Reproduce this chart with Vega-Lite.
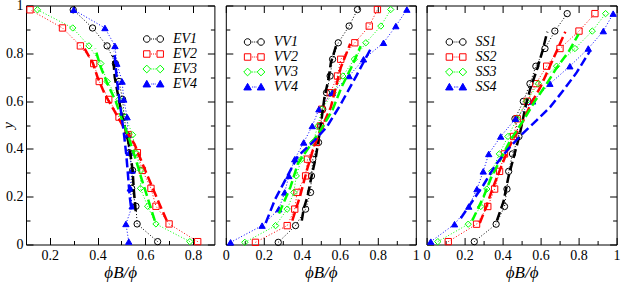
{
  "$schema": "https://vega.github.io/schema/vega-lite/v6.json",
  "padding": {"left": 0, "top": -2.5, "right": 0, "bottom": 0},
  "spacing": 10.8,
  "bounds": "flush",
  "datasets": {
    "obs": [
      {"panel":"EV","series":"EV1","x":0.298,"y":0.982},{"panel":"EV","series":"EV1","x":0.379,"y":0.906},{"panel":"EV","series":"EV1","x":0.44,"y":0.831},{"panel":"EV","series":"EV1","x":0.475,"y":0.757},{"panel":"EV","series":"EV1","x":0.49,"y":0.682},{"panel":"EV","series":"EV1","x":0.505,"y":0.607},{"panel":"EV","series":"EV1","x":0.512,"y":0.533},{"panel":"EV","series":"EV1","x":0.522,"y":0.459},{"panel":"EV","series":"EV1","x":0.533,"y":0.384},{"panel":"EV","series":"EV1","x":0.547,"y":0.31},{"panel":"EV","series":"EV1","x":0.543,"y":0.235},{"panel":"EV","series":"EV1","x":0.561,"y":0.16},{"panel":"EV","series":"EV1","x":0.566,"y":0.086},{"panel":"EV","series":"EV1","x":0.652,"y":0.012},
      {"panel":"EV","series":"EV2","x":0.117,"y":0.982},{"panel":"EV","series":"EV2","x":0.253,"y":0.906},{"panel":"EV","series":"EV2","x":0.328,"y":0.831},{"panel":"EV","series":"EV2","x":0.384,"y":0.757},{"panel":"EV","series":"EV2","x":0.407,"y":0.682},{"panel":"EV","series":"EV2","x":0.447,"y":0.607},{"panel":"EV","series":"EV2","x":0.49,"y":0.533},{"panel":"EV","series":"EV2","x":0.528,"y":0.459},{"panel":"EV","series":"EV2","x":0.567,"y":0.384},{"panel":"EV","series":"EV2","x":0.588,"y":0.31},{"panel":"EV","series":"EV2","x":0.624,"y":0.235},{"panel":"EV","series":"EV2","x":0.645,"y":0.16},{"panel":"EV","series":"EV2","x":0.7,"y":0.086},{"panel":"EV","series":"EV2","x":0.82,"y":0.012},
      {"panel":"EV","series":"EV3","x":0.148,"y":0.982},{"panel":"EV","series":"EV3","x":0.296,"y":0.906},{"panel":"EV","series":"EV3","x":0.364,"y":0.831},{"panel":"EV","series":"EV3","x":0.414,"y":0.757},{"panel":"EV","series":"EV3","x":0.44,"y":0.682},{"panel":"EV","series":"EV3","x":0.49,"y":0.607},{"panel":"EV","series":"EV3","x":0.517,"y":0.533},{"panel":"EV","series":"EV3","x":0.547,"y":0.459},{"panel":"EV","series":"EV3","x":0.561,"y":0.384},{"panel":"EV","series":"EV3","x":0.582,"y":0.31},{"panel":"EV","series":"EV3","x":0.58,"y":0.235},{"panel":"EV","series":"EV3","x":0.61,"y":0.16},{"panel":"EV","series":"EV3","x":0.645,"y":0.086},{"panel":"EV","series":"EV3","x":0.787,"y":0.012},
      {"panel":"EV","series":"EV4","x":0.3,"y":0.982},{"panel":"EV","series":"EV4","x":0.431,"y":0.906},{"panel":"EV","series":"EV4","x":0.473,"y":0.831},{"panel":"EV","series":"EV4","x":0.481,"y":0.757},{"panel":"EV","series":"EV4","x":0.503,"y":0.682},{"panel":"EV","series":"EV4","x":0.51,"y":0.607},{"panel":"EV","series":"EV4","x":0.524,"y":0.533},{"panel":"EV","series":"EV4","x":0.527,"y":0.459},{"panel":"EV","series":"EV4","x":0.533,"y":0.384},{"panel":"EV","series":"EV4","x":0.545,"y":0.31},{"panel":"EV","series":"EV4","x":0.537,"y":0.235},{"panel":"EV","series":"EV4","x":0.545,"y":0.16},{"panel":"EV","series":"EV4","x":0.519,"y":0.086},{"panel":"EV","series":"EV4","x":0.531,"y":0.012},
      {"panel":"VV","series":"VV1","x":0.693,"y":0.983},{"panel":"VV","series":"VV1","x":0.649,"y":0.914},{"panel":"VV","series":"VV1","x":0.592,"y":0.844},{"panel":"VV","series":"VV1","x":0.562,"y":0.775},{"panel":"VV","series":"VV1","x":0.549,"y":0.705},{"panel":"VV","series":"VV1","x":0.53,"y":0.635},{"panel":"VV","series":"VV1","x":0.51,"y":0.566},{"panel":"VV","series":"VV1","x":0.5,"y":0.496},{"panel":"VV","series":"VV1","x":0.488,"y":0.427},{"panel":"VV","series":"VV1","x":0.458,"y":0.357},{"panel":"VV","series":"VV1","x":0.451,"y":0.287},{"panel":"VV","series":"VV1","x":0.446,"y":0.218},{"panel":"VV","series":"VV1","x":0.42,"y":0.148},{"panel":"VV","series":"VV1","x":0.367,"y":0.079},{"panel":"VV","series":"VV1","x":0.276,"y":0.009},
      {"panel":"VV","series":"VV2","x":0.798,"y":0.983},{"panel":"VV","series":"VV2","x":0.755,"y":0.914},{"panel":"VV","series":"VV2","x":0.679,"y":0.844},{"panel":"VV","series":"VV2","x":0.605,"y":0.775},{"panel":"VV","series":"VV2","x":0.588,"y":0.705},{"panel":"VV","series":"VV2","x":0.55,"y":0.635},{"panel":"VV","series":"VV2","x":0.505,"y":0.566},{"panel":"VV","series":"VV2","x":0.498,"y":0.496},{"panel":"VV","series":"VV2","x":0.476,"y":0.427},{"panel":"VV","series":"VV2","x":0.43,"y":0.357},{"panel":"VV","series":"VV2","x":0.42,"y":0.287},{"panel":"VV","series":"VV2","x":0.375,"y":0.218},{"panel":"VV","series":"VV2","x":0.363,"y":0.148},{"panel":"VV","series":"VV2","x":0.323,"y":0.079},{"panel":"VV","series":"VV2","x":0.156,"y":0.009},
      {"panel":"VV","series":"VV3","x":0.868,"y":0.983},{"panel":"VV","series":"VV3","x":0.816,"y":0.914},{"panel":"VV","series":"VV3","x":0.737,"y":0.844},{"panel":"VV","series":"VV3","x":0.676,"y":0.775},{"panel":"VV","series":"VV3","x":0.616,"y":0.705},{"panel":"VV","series":"VV3","x":0.565,"y":0.635},{"panel":"VV","series":"VV3","x":0.505,"y":0.566},{"panel":"VV","series":"VV3","x":0.485,"y":0.496},{"panel":"VV","series":"VV3","x":0.458,"y":0.427},{"panel":"VV","series":"VV3","x":0.398,"y":0.357},{"panel":"VV","series":"VV3","x":0.371,"y":0.287},{"panel":"VV","series":"VV3","x":0.358,"y":0.218},{"panel":"VV","series":"VV3","x":0.323,"y":0.148},{"panel":"VV","series":"VV3","x":0.262,"y":0.079},{"panel":"VV","series":"VV3","x":0.1,"y":0.009},
      {"panel":"VV","series":"VV4","x":0.953,"y":0.983},{"panel":"VV","series":"VV4","x":0.895,"y":0.914},{"panel":"VV","series":"VV4","x":0.83,"y":0.844},{"panel":"VV","series":"VV4","x":0.725,"y":0.775},{"panel":"VV","series":"VV4","x":0.649,"y":0.705},{"panel":"VV","series":"VV4","x":0.561,"y":0.635},{"panel":"VV","series":"VV4","x":0.49,"y":0.566},{"panel":"VV","series":"VV4","x":0.455,"y":0.496},{"panel":"VV","series":"VV4","x":0.41,"y":0.427},{"panel":"VV","series":"VV4","x":0.363,"y":0.357},{"panel":"VV","series":"VV4","x":0.332,"y":0.287},{"panel":"VV","series":"VV4","x":0.31,"y":0.218},{"panel":"VV","series":"VV4","x":0.279,"y":0.148},{"panel":"VV","series":"VV4","x":0.191,"y":0.079},{"panel":"VV","series":"VV4","x":0.025,"y":0.009},
      {"panel":"SS","series":"SS1","x":0.74,"y":0.966},{"panel":"SS","series":"SS1","x":0.675,"y":0.893},{"panel":"SS","series":"SS1","x":0.623,"y":0.82},{"panel":"SS","series":"SS1","x":0.575,"y":0.746},{"panel":"SS","series":"SS1","x":0.544,"y":0.673},{"panel":"SS","series":"SS1","x":0.509,"y":0.599},{"panel":"SS","series":"SS1","x":0.465,"y":0.526},{"panel":"SS","series":"SS1","x":0.486,"y":0.452},{"panel":"SS","series":"SS1","x":0.452,"y":0.379},{"panel":"SS","series":"SS1","x":0.432,"y":0.306},{"panel":"SS","series":"SS1","x":0.423,"y":0.232},{"panel":"SS","series":"SS1","x":0.41,"y":0.159},{"panel":"SS","series":"SS1","x":0.366,"y":0.085},{"panel":"SS","series":"SS1","x":0.251,"y":0.012},
      {"panel":"SS","series":"SS2","x":0.886,"y":0.966},{"panel":"SS","series":"SS2","x":0.802,"y":0.893},{"panel":"SS","series":"SS2","x":0.702,"y":0.82},{"panel":"SS","series":"SS2","x":0.632,"y":0.746},{"panel":"SS","series":"SS2","x":0.575,"y":0.673},{"panel":"SS","series":"SS2","x":0.53,"y":0.599},{"panel":"SS","series":"SS2","x":0.477,"y":0.526},{"panel":"SS","series":"SS2","x":0.458,"y":0.452},{"panel":"SS","series":"SS2","x":0.41,"y":0.379},{"panel":"SS","series":"SS2","x":0.384,"y":0.306},{"panel":"SS","series":"SS2","x":0.358,"y":0.232},{"panel":"SS","series":"SS2","x":0.322,"y":0.159},{"panel":"SS","series":"SS2","x":0.263,"y":0.085},{"panel":"SS","series":"SS2","x":0.114,"y":0.012},
      {"panel":"SS","series":"SS3","x":0.942,"y":0.966},{"panel":"SS","series":"SS3","x":0.872,"y":0.893},{"panel":"SS","series":"SS3","x":0.781,"y":0.82},{"panel":"SS","series":"SS3","x":0.684,"y":0.746},{"panel":"SS","series":"SS3","x":0.588,"y":0.673},{"panel":"SS","series":"SS3","x":0.526,"y":0.599},{"panel":"SS","series":"SS3","x":0.477,"y":0.526},{"panel":"SS","series":"SS3","x":0.428,"y":0.452},{"panel":"SS","series":"SS3","x":0.383,"y":0.379},{"panel":"SS","series":"SS3","x":0.343,"y":0.306},{"panel":"SS","series":"SS3","x":0.317,"y":0.232},{"panel":"SS","series":"SS3","x":0.285,"y":0.159},{"panel":"SS","series":"SS3","x":0.219,"y":0.085},{"panel":"SS","series":"SS3","x":0.059,"y":0.012},
      {"panel":"SS","series":"SS4","x":0.982,"y":0.966},{"panel":"SS","series":"SS4","x":0.93,"y":0.893},{"panel":"SS","series":"SS4","x":0.851,"y":0.82},{"panel":"SS","series":"SS4","x":0.754,"y":0.746},{"panel":"SS","series":"SS4","x":0.649,"y":0.673},{"panel":"SS","series":"SS4","x":0.558,"y":0.599},{"panel":"SS","series":"SS4","x":0.468,"y":0.526},{"panel":"SS","series":"SS4","x":0.39,"y":0.452},{"panel":"SS","series":"SS4","x":0.327,"y":0.379},{"panel":"SS","series":"SS4","x":0.298,"y":0.306},{"panel":"SS","series":"SS4","x":0.265,"y":0.232},{"panel":"SS","series":"SS4","x":0.222,"y":0.159},{"panel":"SS","series":"SS4","x":0.147,"y":0.085},{"panel":"SS","series":"SS4","x":0.022,"y":0.012}
    ],
    "model": [
      {"panel":"EV","series":"EV1","x":0.465,"y":0.79},{"panel":"EV","series":"EV1","x":0.472,"y":0.7},{"panel":"EV","series":"EV1","x":0.485,"y":0.63},{"panel":"EV","series":"EV1","x":0.5,"y":0.55},{"panel":"EV","series":"EV1","x":0.52,"y":0.47},{"panel":"EV","series":"EV1","x":0.535,"y":0.4},{"panel":"EV","series":"EV1","x":0.547,"y":0.31},{"panel":"EV","series":"EV1","x":0.552,"y":0.23},{"panel":"EV","series":"EV1","x":0.56,"y":0.14},
      {"panel":"EV","series":"EV2","x":0.338,"y":0.833},{"panel":"EV","series":"EV2","x":0.38,"y":0.76},{"panel":"EV","series":"EV2","x":0.4,"y":0.7},{"panel":"EV","series":"EV2","x":0.43,"y":0.63},{"panel":"EV","series":"EV2","x":0.47,"y":0.56},{"panel":"EV","series":"EV2","x":0.51,"y":0.49},{"panel":"EV","series":"EV2","x":0.555,"y":0.42},{"panel":"EV","series":"EV2","x":0.6,"y":0.31},{"panel":"EV","series":"EV2","x":0.655,"y":0.18},{"panel":"EV","series":"EV2","x":0.69,"y":0.1},
      {"panel":"EV","series":"EV3","x":0.39,"y":0.82},{"panel":"EV","series":"EV3","x":0.414,"y":0.74},{"panel":"EV","series":"EV3","x":0.443,"y":0.67},{"panel":"EV","series":"EV3","x":0.476,"y":0.6},{"panel":"EV","series":"EV3","x":0.5,"y":0.53},{"panel":"EV","series":"EV3","x":0.53,"y":0.45},{"panel":"EV","series":"EV3","x":0.562,"y":0.35},{"panel":"EV","series":"EV3","x":0.583,"y":0.28},{"panel":"EV","series":"EV3","x":0.618,"y":0.17},{"panel":"EV","series":"EV3","x":0.64,"y":0.1},
      {"panel":"EV","series":"EV4","x":0.47,"y":0.81},{"panel":"EV","series":"EV4","x":0.48,"y":0.7},{"panel":"EV","series":"EV4","x":0.495,"y":0.58},{"panel":"EV","series":"EV4","x":0.51,"y":0.47},{"panel":"EV","series":"EV4","x":0.52,"y":0.38},{"panel":"EV","series":"EV4","x":0.527,"y":0.3},{"panel":"EV","series":"EV4","x":0.535,"y":0.2},{"panel":"EV","series":"EV4","x":0.54,"y":0.16},
      {"panel":"VV","series":"VV1","x":0.58,"y":0.83},{"panel":"VV","series":"VV1","x":0.553,"y":0.76},{"panel":"VV","series":"VV1","x":0.54,"y":0.69},{"panel":"VV","series":"VV1","x":0.52,"y":0.62},{"panel":"VV","series":"VV1","x":0.5,"y":0.5},{"panel":"VV","series":"VV1","x":0.475,"y":0.37},{"panel":"VV","series":"VV1","x":0.45,"y":0.28},{"panel":"VV","series":"VV1","x":0.43,"y":0.2},{"panel":"VV","series":"VV1","x":0.41,"y":0.15},{"panel":"VV","series":"VV1","x":0.4,"y":0.1},
      {"panel":"VV","series":"VV2","x":0.655,"y":0.84},{"panel":"VV","series":"VV2","x":0.605,"y":0.74},{"panel":"VV","series":"VV2","x":0.58,"y":0.66},{"panel":"VV","series":"VV2","x":0.553,"y":0.575},{"panel":"VV","series":"VV2","x":0.5,"y":0.48},{"panel":"VV","series":"VV2","x":0.46,"y":0.4},{"panel":"VV","series":"VV2","x":0.43,"y":0.32},{"panel":"VV","series":"VV2","x":0.39,"y":0.2},{"panel":"VV","series":"VV2","x":0.35,"y":0.1},
      {"panel":"VV","series":"VV3","x":0.71,"y":0.83},{"panel":"VV","series":"VV3","x":0.66,"y":0.74},{"panel":"VV","series":"VV3","x":0.61,"y":0.66},{"panel":"VV","series":"VV3","x":0.56,"y":0.56},{"panel":"VV","series":"VV3","x":0.5,"y":0.48},{"panel":"VV","series":"VV3","x":0.44,"y":0.41},{"panel":"VV","series":"VV3","x":0.38,"y":0.34},{"panel":"VV","series":"VV3","x":0.34,"y":0.24},{"panel":"VV","series":"VV3","x":0.28,"y":0.13},
      {"panel":"VV","series":"VV4","x":0.77,"y":0.83},{"panel":"VV","series":"VV4","x":0.69,"y":0.71},{"panel":"VV","series":"VV4","x":0.6,"y":0.58},{"panel":"VV","series":"VV4","x":0.53,"y":0.49},{"panel":"VV","series":"VV4","x":0.46,"y":0.43},{"panel":"VV","series":"VV4","x":0.38,"y":0.37},{"panel":"VV","series":"VV4","x":0.32,"y":0.28},{"panel":"VV","series":"VV4","x":0.26,"y":0.19},{"panel":"VV","series":"VV4","x":0.21,"y":0.09},
      {"panel":"SS","series":"SS1","x":0.635,"y":0.89},{"panel":"SS","series":"SS1","x":0.61,"y":0.81},{"panel":"SS","series":"SS1","x":0.58,"y":0.73},{"panel":"SS","series":"SS1","x":0.545,"y":0.65},{"panel":"SS","series":"SS1","x":0.52,"y":0.575},{"panel":"SS","series":"SS1","x":0.49,"y":0.46},{"panel":"SS","series":"SS1","x":0.46,"y":0.37},{"panel":"SS","series":"SS1","x":0.43,"y":0.28},{"panel":"SS","series":"SS1","x":0.405,"y":0.18},{"panel":"SS","series":"SS1","x":0.37,"y":0.1},
      {"panel":"SS","series":"SS2","x":0.73,"y":0.89},{"panel":"SS","series":"SS2","x":0.685,"y":0.81},{"panel":"SS","series":"SS2","x":0.64,"y":0.73},{"panel":"SS","series":"SS2","x":0.6,"y":0.66},{"panel":"SS","series":"SS2","x":0.55,"y":0.59},{"panel":"SS","series":"SS2","x":0.51,"y":0.52},{"panel":"SS","series":"SS2","x":0.46,"y":0.45},{"panel":"SS","series":"SS2","x":0.42,"y":0.38},{"panel":"SS","series":"SS2","x":0.385,"y":0.31},{"panel":"SS","series":"SS2","x":0.35,"y":0.24},{"panel":"SS","series":"SS2","x":0.315,"y":0.16},{"panel":"SS","series":"SS2","x":0.28,"y":0.09},
      {"panel":"SS","series":"SS3","x":0.8,"y":0.88},{"panel":"SS","series":"SS3","x":0.75,"y":0.81},{"panel":"SS","series":"SS3","x":0.685,"y":0.74},{"panel":"SS","series":"SS3","x":0.63,"y":0.67},{"panel":"SS","series":"SS3","x":0.57,"y":0.6},{"panel":"SS","series":"SS3","x":0.51,"y":0.52},{"panel":"SS","series":"SS3","x":0.44,"y":0.435},{"panel":"SS","series":"SS3","x":0.385,"y":0.35},{"panel":"SS","series":"SS3","x":0.34,"y":0.28},{"panel":"SS","series":"SS3","x":0.3,"y":0.2},{"panel":"SS","series":"SS3","x":0.24,"y":0.1},
      {"panel":"SS","series":"SS4","x":0.86,"y":0.81},{"panel":"SS","series":"SS4","x":0.79,"y":0.72},{"panel":"SS","series":"SS4","x":0.72,"y":0.645},{"panel":"SS","series":"SS4","x":0.65,"y":0.575},{"panel":"SS","series":"SS4","x":0.58,"y":0.52},{"panel":"SS","series":"SS4","x":0.5,"y":0.46},{"panel":"SS","series":"SS4","x":0.43,"y":0.4},{"panel":"SS","series":"SS4","x":0.36,"y":0.33},{"panel":"SS","series":"SS4","x":0.3,"y":0.25},{"panel":"SS","series":"SS4","x":0.24,"y":0.18},{"panel":"SS","series":"SS4","x":0.18,"y":0.11}
    ]
  },
  "hconcat": [
    {
      "width": 188.4, "height": 239,
      "layer": [
        {
          "data": {"name": "obs"},
          "transform": [{"filter": "datum.panel == 'EV'"}],
          "mark": {"type": "line", "strokeWidth": 1, "strokeDash": [1, 2]},
          "encoding": {
            "x": {"field": "x", "type": "quantitative", "scale": {"domain": [0.1, 0.89], "nice": false, "zero": false},
              "axis": {"orient": "bottom", "values": [0.2,0.4,0.6,0.8], "format": "~g", "ticks": false, "tickSize": 0, "labelPadding": 4, "title": "ϕB/ϕ"}},
            "y": {"field": "y", "type": "quantitative", "scale": {"domain": [0, 1], "nice": false},
              "axis": {"orient": "left", "values": [0,0.2,0.4,0.6,0.8,1], "format": "~g", "ticks": false, "tickSize": 0, "labelPadding": 3, "title": "y", "titleFontSize": 15, "titlePadding": -10.2}},
            "detail": {"field": "series"},
            "stroke": {"field": "series", "type": "nominal", "scale": {"domain": ["EV1","EV2","EV3","EV4"], "range": ["#000000","#ff0000","#00ff00","#0000ff"]}, "legend": null},
            "order": {"field": "y", "type": "quantitative"}
          }
        },
        {
          "data": {"name": "obs"},
          "transform": [{"filter": "datum.panel == 'EV'"}],
          "mark": {"type": "point", "size": 40, "strokeWidth": 1, "opacity": 1},
          "encoding": {
            "x": {"field": "x", "type": "quantitative", "scale": {"domain": [0.1, 0.89], "nice": false, "zero": false},
              "axis": {"orient": "bottom", "values": [0.2,0.4,0.6,0.8], "labels": false, "tickSize": -7, "title": null}},
            "y": {"field": "y", "type": "quantitative", "scale": {"domain": [0, 1], "nice": false},
              "axis": {"orient": "left", "values": [0,0.2,0.4,0.6,0.8,1], "labels": false, "tickSize": -7, "title": null}},
            "shape": {"field": "series", "type": "nominal", "scale": {"domain": ["EV1","EV2","EV3","EV4"], "range": ["circle","square","diamond","triangle-up"]}, "legend": null},
            "stroke": {"field": "series", "type": "nominal", "scale": {"domain": ["EV1","EV2","EV3","EV4"], "range": ["#000000","#ff0000","#00ff00","#0000ff"]}, "legend": null},
            "fill": {"field": "series", "type": "nominal", "scale": {"domain": ["EV1","EV2","EV3","EV4"], "range": ["transparent","transparent","transparent","#0000ff"]}, "legend": null}
          }
        },
        {
          "data": {"name": "model"},
          "transform": [{"filter": "datum.panel == 'EV'"}],
          "mark": {"type": "line", "strokeWidth": 2.5, "strokeDash": [9, 4]},
          "encoding": {
            "x": {"field": "x", "type": "quantitative", "scale": {"domain": [0.1, 0.89], "nice": false, "zero": false},
              "axis": {"orient": "top", "values": [0.2,0.4,0.6,0.8], "labels": false, "tickSize": -7, "title": null}},
            "y": {"field": "y", "type": "quantitative", "scale": {"domain": [0, 1], "nice": false},
              "axis": {"orient": "right", "values": [0,0.2,0.4,0.6,0.8,1], "labels": false, "tickSize": -7, "title": null}},
            "detail": {"field": "series"},
            "stroke": {"field": "series", "type": "nominal", "scale": {"domain": ["EV1","EV2","EV3","EV4"], "range": ["#000000","#ff0000","#00ff00","#0000ff"]}, "legend": null},
            "order": {"field": "y", "type": "quantitative"}
          }
        },
        {
          "data": {"name": "obs"},
          "transform": [{"filter": "datum.panel == 'EV'"}],
          "mark": {"type": "point", "size": 40, "strokeWidth": 1, "opacity": 0},
          "encoding": {
            "x": {"field": "x", "type": "quantitative", "scale": {"domain": [0.1, 0.89], "nice": false, "zero": false},
              "axis": {"orient": "bottom", "values": [0.3,0.5,0.7], "labels": false, "tickSize": -4, "title": null}},
            "y": {"field": "y", "type": "quantitative", "scale": {"domain": [0, 1], "nice": false},
              "axis": {"orient": "left", "values": [0.1,0.3,0.5,0.7,0.9], "labels": false, "tickSize": -4, "title": null}},
            "shape": {"field": "series", "type": "nominal", "scale": {"domain": ["EV1","EV2","EV3","EV4"], "range": [
                "M -0.49 0 A 0.47 0.47 0 1 0 -1.43 0 A 0.47 0.47 0 1 0 -0.49 0 M 1.43 0 A 0.47 0.47 0 1 0 0.49 0 A 0.47 0.47 0 1 0 1.43 0 M -0.35 0 L -0.22 0 M -0.07 0 L 0.07 0 M 0.22 0 L 0.35 0",
                "M -1.42 -0.46 H -0.5 V 0.46 H -1.42 Z M 0.5 -0.46 H 1.42 V 0.46 H 0.5 Z M -0.35 0 L -0.22 0 M -0.07 0 L 0.07 0 M 0.22 0 L 0.35 0",
                "M -0.96 -0.55 L -0.41 0 L -0.96 0.55 L -1.51 0 Z M 0.96 -0.55 L 1.51 0 L 0.96 0.55 L 0.41 0 Z M -0.3 0 L -0.18 0 M -0.06 0 L 0.06 0 M 0.18 0 L 0.3 0",
                "M -0.96 -0.52 L -0.42 0.42 L -1.5 0.42 Z M 0.96 -0.52 L 1.5 0.42 L 0.42 0.42 Z M -0.3 0 L -0.18 0 M -0.06 0 L 0.06 0 M 0.18 0 L 0.3 0"]},
              "legend": {"orient": "none", "legendX": 120, "legendY": 26, "title": null, "labelFont": "Liberation Serif", "labelFontStyle": "italic", "labelFontSize": 14, "labelColor": "#000000", "labelOffset": 12, "rowPadding": 0, "symbolSize": 196, "symbolStrokeWidth": 1, "symbolOpacity": 1}},
            "stroke": {"field": "series", "type": "nominal", "scale": {"domain": ["EV1","EV2","EV3","EV4"], "range": ["#000000","#ff0000","#00ff00","#0000ff"]}},
            "fill": {"field": "series", "type": "nominal", "scale": {"domain": ["EV1","EV2","EV3","EV4"], "range": ["transparent","transparent","transparent","#0000ff"]}}
          }
        },
        {
          "data": {"name": "obs"},
          "transform": [{"filter": "datum.panel == 'EV'"}],
          "mark": {"type": "point", "opacity": 0},
          "encoding": {
            "x": {"field": "x", "type": "quantitative", "scale": {"domain": [0.1, 0.89], "nice": false, "zero": false},
              "axis": {"orient": "top", "values": [0.3,0.5,0.7], "labels": false, "tickSize": -4, "title": null}},
            "y": {"field": "y", "type": "quantitative", "scale": {"domain": [0, 1], "nice": false},
              "axis": {"orient": "right", "values": [0.1,0.3,0.5,0.7,0.9], "labels": false, "tickSize": -4, "title": null}}
          }
        }
      ],
      "resolve": {"scale": {"shape": "independent", "stroke": "independent", "fill": "independent"}, "axis": {"x": "independent", "y": "independent"}}
    },
    {
      "width": 190, "height": 239,
      "layer": [
        {
          "data": {"name": "obs"},
          "transform": [{"filter": "datum.panel == 'VV'"}],
          "mark": {"type": "line", "strokeWidth": 1, "strokeDash": [1, 2]},
          "encoding": {
            "x": {"field": "x", "type": "quantitative", "scale": {"domain": [0, 1], "nice": false, "zero": false},
              "axis": {"orient": "bottom", "values": [0,0.2,0.4,0.6,0.8,1], "format": "~g", "ticks": false, "tickSize": 0, "labelPadding": 4, "title": "ϕB/ϕ"}},
            "y": {"field": "y", "type": "quantitative", "scale": {"domain": [0, 1], "nice": false}, "axis": null},
            "detail": {"field": "series"},
            "stroke": {"field": "series", "type": "nominal", "scale": {"domain": ["VV1","VV2","VV3","VV4"], "range": ["#000000","#ff0000","#00ff00","#0000ff"]}, "legend": null},
            "order": {"field": "y", "type": "quantitative"}
          }
        },
        {
          "data": {"name": "obs"},
          "transform": [{"filter": "datum.panel == 'VV'"}],
          "mark": {"type": "point", "size": 40, "strokeWidth": 1, "opacity": 1},
          "encoding": {
            "x": {"field": "x", "type": "quantitative", "scale": {"domain": [0, 1], "nice": false, "zero": false},
              "axis": {"orient": "bottom", "values": [0,0.2,0.4,0.6,0.8,1], "labels": false, "tickSize": -7, "title": null}},
            "y": {"field": "y", "type": "quantitative", "scale": {"domain": [0, 1], "nice": false},
              "axis": {"orient": "left", "values": [0,0.2,0.4,0.6,0.8,1], "labels": false, "tickSize": -7, "title": null}},
            "shape": {"field": "series", "type": "nominal", "scale": {"domain": ["VV1","VV2","VV3","VV4"], "range": ["circle","square","diamond","triangle-up"]}, "legend": null},
            "stroke": {"field": "series", "type": "nominal", "scale": {"domain": ["VV1","VV2","VV3","VV4"], "range": ["#000000","#ff0000","#00ff00","#0000ff"]}, "legend": null},
            "fill": {"field": "series", "type": "nominal", "scale": {"domain": ["VV1","VV2","VV3","VV4"], "range": ["transparent","transparent","transparent","#0000ff"]}, "legend": null}
          }
        },
        {
          "data": {"name": "model"},
          "transform": [{"filter": "datum.panel == 'VV'"}],
          "mark": {"type": "line", "strokeWidth": 2.5, "strokeDash": [9, 4]},
          "encoding": {
            "x": {"field": "x", "type": "quantitative", "scale": {"domain": [0, 1], "nice": false, "zero": false},
              "axis": {"orient": "top", "values": [0,0.2,0.4,0.6,0.8,1], "labels": false, "tickSize": -7, "title": null}},
            "y": {"field": "y", "type": "quantitative", "scale": {"domain": [0, 1], "nice": false},
              "axis": {"orient": "right", "values": [0,0.2,0.4,0.6,0.8,1], "labels": false, "tickSize": -7, "title": null}},
            "detail": {"field": "series"},
            "stroke": {"field": "series", "type": "nominal", "scale": {"domain": ["VV1","VV2","VV3","VV4"], "range": ["#000000","#ff0000","#00ff00","#0000ff"]}, "legend": null},
            "order": {"field": "y", "type": "quantitative"}
          }
        },
        {
          "data": {"name": "obs"},
          "transform": [{"filter": "datum.panel == 'VV'"}],
          "mark": {"type": "point", "size": 40, "strokeWidth": 1, "opacity": 0},
          "encoding": {
            "x": {"field": "x", "type": "quantitative", "scale": {"domain": [0, 1], "nice": false, "zero": false},
              "axis": {"orient": "bottom", "values": [0.1,0.3,0.5,0.7,0.9], "labels": false, "tickSize": -4, "title": null}},
            "y": {"field": "y", "type": "quantitative", "scale": {"domain": [0, 1], "nice": false},
              "axis": {"orient": "left", "values": [0.1,0.3,0.5,0.7,0.9], "labels": false, "tickSize": -4, "title": null}},
            "shape": {"field": "series", "type": "nominal", "scale": {"domain": ["VV1","VV2","VV3","VV4"], "range": [
                "M -0.49 0 A 0.47 0.47 0 1 0 -1.43 0 A 0.47 0.47 0 1 0 -0.49 0 M 1.43 0 A 0.47 0.47 0 1 0 0.49 0 A 0.47 0.47 0 1 0 1.43 0 M -0.35 0 L -0.22 0 M -0.07 0 L 0.07 0 M 0.22 0 L 0.35 0",
                "M -1.42 -0.46 H -0.5 V 0.46 H -1.42 Z M 0.5 -0.46 H 1.42 V 0.46 H 0.5 Z M -0.35 0 L -0.22 0 M -0.07 0 L 0.07 0 M 0.22 0 L 0.35 0",
                "M -0.96 -0.55 L -0.41 0 L -0.96 0.55 L -1.51 0 Z M 0.96 -0.55 L 1.51 0 L 0.96 0.55 L 0.41 0 Z M -0.3 0 L -0.18 0 M -0.06 0 L 0.06 0 M 0.18 0 L 0.3 0",
                "M -0.96 -0.52 L -0.42 0.42 L -1.5 0.42 Z M 0.96 -0.52 L 1.5 0.42 L 0.42 0.42 Z M -0.3 0 L -0.18 0 M -0.06 0 L 0.06 0 M 0.18 0 L 0.3 0"]},
              "legend": {"orient": "none", "legendX": 21, "legendY": 29, "title": null, "labelFont": "Liberation Serif", "labelFontStyle": "italic", "labelFontSize": 14, "labelColor": "#000000", "labelOffset": 12, "rowPadding": 0, "symbolSize": 196, "symbolStrokeWidth": 1, "symbolOpacity": 1}},
            "stroke": {"field": "series", "type": "nominal", "scale": {"domain": ["VV1","VV2","VV3","VV4"], "range": ["#000000","#ff0000","#00ff00","#0000ff"]}},
            "fill": {"field": "series", "type": "nominal", "scale": {"domain": ["VV1","VV2","VV3","VV4"], "range": ["transparent","transparent","transparent","#0000ff"]}}
          }
        },
        {
          "data": {"name": "obs"},
          "transform": [{"filter": "datum.panel == 'VV'"}],
          "mark": {"type": "point", "opacity": 0},
          "encoding": {
            "x": {"field": "x", "type": "quantitative", "scale": {"domain": [0, 1], "nice": false, "zero": false},
              "axis": {"orient": "top", "values": [0.1,0.3,0.5,0.7,0.9], "labels": false, "tickSize": -4, "title": null}},
            "y": {"field": "y", "type": "quantitative", "scale": {"domain": [0, 1], "nice": false},
              "axis": {"orient": "right", "values": [0.1,0.3,0.5,0.7,0.9], "labels": false, "tickSize": -4, "title": null}}
          }
        }
      ],
      "resolve": {"scale": {"shape": "independent", "stroke": "independent", "fill": "independent"}, "axis": {"x": "independent", "y": "independent"}}
    },
    {
      "width": 190, "height": 239,
      "layer": [
        {
          "data": {"name": "obs"},
          "transform": [{"filter": "datum.panel == 'SS'"}],
          "mark": {"type": "line", "strokeWidth": 1, "strokeDash": [1, 2]},
          "encoding": {
            "x": {"field": "x", "type": "quantitative", "scale": {"domain": [0, 1], "nice": false, "zero": false},
              "axis": {"orient": "bottom", "values": [0,0.2,0.4,0.6,0.8,1], "format": "~g", "ticks": false, "tickSize": 0, "labelPadding": 4, "title": "ϕB/ϕ"}},
            "y": {"field": "y", "type": "quantitative", "scale": {"domain": [0, 1], "nice": false}, "axis": null},
            "detail": {"field": "series"},
            "stroke": {"field": "series", "type": "nominal", "scale": {"domain": ["SS1","SS2","SS3","SS4"], "range": ["#000000","#ff0000","#00ff00","#0000ff"]}, "legend": null},
            "order": {"field": "y", "type": "quantitative"}
          }
        },
        {
          "data": {"name": "obs"},
          "transform": [{"filter": "datum.panel == 'SS'"}],
          "mark": {"type": "point", "size": 40, "strokeWidth": 1, "opacity": 1},
          "encoding": {
            "x": {"field": "x", "type": "quantitative", "scale": {"domain": [0, 1], "nice": false, "zero": false},
              "axis": {"orient": "bottom", "values": [0,0.2,0.4,0.6,0.8,1], "labels": false, "tickSize": -7, "title": null}},
            "y": {"field": "y", "type": "quantitative", "scale": {"domain": [0, 1], "nice": false},
              "axis": {"orient": "left", "values": [0,0.2,0.4,0.6,0.8,1], "labels": false, "tickSize": -7, "title": null}},
            "shape": {"field": "series", "type": "nominal", "scale": {"domain": ["SS1","SS2","SS3","SS4"], "range": ["circle","square","diamond","triangle-up"]}, "legend": null},
            "stroke": {"field": "series", "type": "nominal", "scale": {"domain": ["SS1","SS2","SS3","SS4"], "range": ["#000000","#ff0000","#00ff00","#0000ff"]}, "legend": null},
            "fill": {"field": "series", "type": "nominal", "scale": {"domain": ["SS1","SS2","SS3","SS4"], "range": ["transparent","transparent","transparent","#0000ff"]}, "legend": null}
          }
        },
        {
          "data": {"name": "model"},
          "transform": [{"filter": "datum.panel == 'SS'"}],
          "mark": {"type": "line", "strokeWidth": 2.5, "strokeDash": [9, 4]},
          "encoding": {
            "x": {"field": "x", "type": "quantitative", "scale": {"domain": [0, 1], "nice": false, "zero": false},
              "axis": {"orient": "top", "values": [0,0.2,0.4,0.6,0.8,1], "labels": false, "tickSize": -7, "title": null}},
            "y": {"field": "y", "type": "quantitative", "scale": {"domain": [0, 1], "nice": false},
              "axis": {"orient": "right", "values": [0,0.2,0.4,0.6,0.8,1], "labels": false, "tickSize": -7, "title": null}},
            "detail": {"field": "series"},
            "stroke": {"field": "series", "type": "nominal", "scale": {"domain": ["SS1","SS2","SS3","SS4"], "range": ["#000000","#ff0000","#00ff00","#0000ff"]}, "legend": null},
            "order": {"field": "y", "type": "quantitative"}
          }
        },
        {
          "data": {"name": "obs"},
          "transform": [{"filter": "datum.panel == 'SS'"}],
          "mark": {"type": "point", "size": 40, "strokeWidth": 1, "opacity": 0},
          "encoding": {
            "x": {"field": "x", "type": "quantitative", "scale": {"domain": [0, 1], "nice": false, "zero": false},
              "axis": {"orient": "bottom", "values": [0.1,0.3,0.5,0.7,0.9], "labels": false, "tickSize": -4, "title": null}},
            "y": {"field": "y", "type": "quantitative", "scale": {"domain": [0, 1], "nice": false},
              "axis": {"orient": "left", "values": [0.1,0.3,0.5,0.7,0.9], "labels": false, "tickSize": -4, "title": null}},
            "shape": {"field": "series", "type": "nominal", "scale": {"domain": ["SS1","SS2","SS3","SS4"], "range": [
                "M -0.49 0 A 0.47 0.47 0 1 0 -1.43 0 A 0.47 0.47 0 1 0 -0.49 0 M 1.43 0 A 0.47 0.47 0 1 0 0.49 0 A 0.47 0.47 0 1 0 1.43 0 M -0.35 0 L -0.22 0 M -0.07 0 L 0.07 0 M 0.22 0 L 0.35 0",
                "M -1.42 -0.46 H -0.5 V 0.46 H -1.42 Z M 0.5 -0.46 H 1.42 V 0.46 H 0.5 Z M -0.35 0 L -0.22 0 M -0.07 0 L 0.07 0 M 0.22 0 L 0.35 0",
                "M -0.96 -0.55 L -0.41 0 L -0.96 0.55 L -1.51 0 Z M 0.96 -0.55 L 1.51 0 L 0.96 0.55 L 0.41 0 Z M -0.3 0 L -0.18 0 M -0.06 0 L 0.06 0 M 0.18 0 L 0.3 0",
                "M -0.96 -0.52 L -0.42 0.42 L -1.5 0.42 Z M 0.96 -0.52 L 1.5 0.42 L 0.42 0.42 Z M -0.3 0 L -0.18 0 M -0.06 0 L 0.06 0 M 0.18 0 L 0.3 0"]},
              "legend": {"orient": "none", "legendX": 22, "legendY": 29, "title": null, "labelFont": "Liberation Serif", "labelFontStyle": "italic", "labelFontSize": 14, "labelColor": "#000000", "labelOffset": 12, "rowPadding": 0, "symbolSize": 196, "symbolStrokeWidth": 1, "symbolOpacity": 1}},
            "stroke": {"field": "series", "type": "nominal", "scale": {"domain": ["SS1","SS2","SS3","SS4"], "range": ["#000000","#ff0000","#00ff00","#0000ff"]}},
            "fill": {"field": "series", "type": "nominal", "scale": {"domain": ["SS1","SS2","SS3","SS4"], "range": ["transparent","transparent","transparent","#0000ff"]}}
          }
        },
        {
          "data": {"name": "obs"},
          "transform": [{"filter": "datum.panel == 'SS'"}],
          "mark": {"type": "point", "opacity": 0},
          "encoding": {
            "x": {"field": "x", "type": "quantitative", "scale": {"domain": [0, 1], "nice": false, "zero": false},
              "axis": {"orient": "top", "values": [0.1,0.3,0.5,0.7,0.9], "labels": false, "tickSize": -4, "title": null}},
            "y": {"field": "y", "type": "quantitative", "scale": {"domain": [0, 1], "nice": false},
              "axis": {"orient": "right", "values": [0.1,0.3,0.5,0.7,0.9], "labels": false, "tickSize": -4, "title": null}}
          }
        }
      ],
      "resolve": {"scale": {"shape": "independent", "stroke": "independent", "fill": "independent"}, "axis": {"x": "independent", "y": "independent"}}
    }
  ],
  "resolve": {"scale": {"x": "independent", "y": "independent", "stroke": "independent", "shape": "independent", "fill": "independent"}, "legend": {"stroke": "independent", "shape": "independent", "fill": "independent"}},
  "config": {
    "view": {"stroke": "#000000", "strokeWidth": 1},
    "axis": {"grid": false, "domain": false, "tickColor": "#000000", "tickWidth": 1, "labelFont": "Liberation Serif", "labelFontSize": 14, "labelColor": "#000000", "titleFont": "Liberation Serif", "titleFontSize": 17, "titleFontStyle": "italic", "titleFontWeight": "normal", "titleColor": "#000000", "labelFlush": false, "labelOverlap": false, "labelBound": false},
    "axisBottom": {"titlePadding": 2}
  }
}
